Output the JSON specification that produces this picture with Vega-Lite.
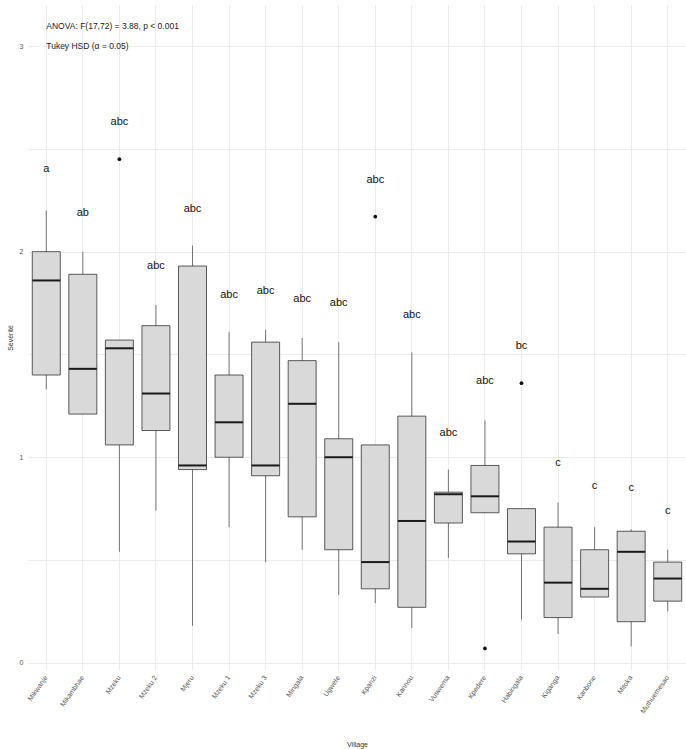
{
  "$schema": "https://vega.github.io/schema/vega-lite/v6.json",
  "width": 658,
  "height": 665,
  "autosize": {"type": "none"},
  "padding": {"left": 28, "top": 5, "right": 0, "bottom": 79},
  "background": "white",
  "config": {"view": {"stroke": null}, "font": "Liberation Sans"},
  "datasets": {
    "boxes": [
      {"village": "Mikwanje", "lower": 1.33, "q1": 1.40, "median": 1.86, "q3": 2.00, "upper": 2.20, "letters": "a", "ly": 2.40},
      {"village": "Mikambhae", "lower": 1.21, "q1": 1.21, "median": 1.43, "q3": 1.89, "upper": 2.00, "letters": "ab", "ly": 2.19},
      {"village": "Mzeku", "lower": 0.54, "q1": 1.06, "median": 1.53, "q3": 1.57, "upper": 1.57, "letters": "abc", "ly": 2.63},
      {"village": "Mzeku 2", "lower": 0.74, "q1": 1.13, "median": 1.31, "q3": 1.64, "upper": 1.74, "letters": "abc", "ly": 1.93},
      {"village": "Mjeru", "lower": 0.18, "q1": 0.94, "median": 0.96, "q3": 1.93, "upper": 2.03, "letters": "abc", "ly": 2.21},
      {"village": "Mzeku 1", "lower": 0.66, "q1": 1.00, "median": 1.17, "q3": 1.40, "upper": 1.61, "letters": "abc", "ly": 1.79},
      {"village": "Mzeku 3", "lower": 0.49, "q1": 0.91, "median": 0.96, "q3": 1.56, "upper": 1.62, "letters": "abc", "ly": 1.81},
      {"village": "Mingala", "lower": 0.55, "q1": 0.71, "median": 1.26, "q3": 1.47, "upper": 1.58, "letters": "abc", "ly": 1.77},
      {"village": "Ugwete", "lower": 0.33, "q1": 0.55, "median": 1.00, "q3": 1.09, "upper": 1.56, "letters": "abc", "ly": 1.75},
      {"village": "Kpanzi", "lower": 0.29, "q1": 0.36, "median": 0.49, "q3": 1.06, "upper": 1.06, "letters": "abc", "ly": 2.35},
      {"village": "Kannou", "lower": 0.17, "q1": 0.27, "median": 0.69, "q3": 1.20, "upper": 1.51, "letters": "abc", "ly": 1.69},
      {"village": "Vuswema", "lower": 0.51, "q1": 0.68, "median": 0.82, "q3": 0.83, "upper": 0.94, "letters": "abc", "ly": 1.12},
      {"village": "Kpedere", "lower": 0.73, "q1": 0.73, "median": 0.81, "q3": 0.96, "upper": 1.18, "letters": "abc", "ly": 1.37},
      {"village": "Habingala", "lower": 0.21, "q1": 0.53, "median": 0.59, "q3": 0.75, "upper": 0.75, "letters": "bc", "ly": 1.54},
      {"village": "Kiganga", "lower": 0.14, "q1": 0.22, "median": 0.39, "q3": 0.66, "upper": 0.78, "letters": "c", "ly": 0.97},
      {"village": "Kanbone", "lower": 0.32, "q1": 0.32, "median": 0.36, "q3": 0.55, "upper": 0.66, "letters": "c", "ly": 0.86},
      {"village": "Mitoka", "lower": 0.08, "q1": 0.20, "median": 0.54, "q3": 0.64, "upper": 0.65, "letters": "c", "ly": 0.85},
      {"village": "Muthuemesao", "lower": 0.25, "q1": 0.30, "median": 0.41, "q3": 0.49, "upper": 0.55, "letters": "c", "ly": 0.74}
    ],
    "outliers": [
      {"village": "Mzeku", "value": 2.45},
      {"village": "Kpanzi", "value": 2.17},
      {"village": "Kpedere", "value": 0.07},
      {"village": "Habingala", "value": 1.36}
    ],
    "notes": [
      {"village": "Mikwanje", "y": 3.1, "label": "ANOVA: F(17,72) = 3.88, p < 0.001"},
      {"village": "Mikwanje", "y": 3.0, "label": "Tukey HSD (α = 0.05)"}
    ]
  },
  "encoding": {
    "x": {
      "field": "village",
      "type": "nominal",
      "sort": ["Mikwanje", "Mikambhae", "Mzeku", "Mzeku 2", "Mjeru", "Mzeku 1", "Mzeku 3", "Mingala", "Ugwete", "Kpanzi", "Kannou", "Vuswema", "Kpedere", "Habingala", "Kiganga", "Kanbone", "Mitoka", "Muthuemesao"],
      "scale": {"paddingInner": 0, "paddingOuter": 0},
      "title": "Village",
      "axis": {
        "labelAngle": -55,
        "labelFontSize": 7,
        "labelColor": "#555555",
        "labelPadding": 6,
        "ticks": false,
        "domain": false,
        "grid": true,
        "bandPosition": 0.5,
        "gridColor": "#ebebeb",
        "gridWidth": 1,
        "titleFontSize": 7,
        "titleColor": "#333333",
        "titleFontWeight": "normal",
        "titlePadding": 26
      }
    }
  },
  "layer": [
    {
      "data": {"name": "boxes"},
      "mark": {"type": "rule", "color": "#555555", "strokeWidth": 0.8},
      "encoding": {
        "y": {
          "field": "lower",
          "type": "quantitative",
          "title": "Sévérité",
          "scale": {"domain": [-0.035, 3.2], "nice": false, "zero": false},
          "axis": {
            "values": [0, 0.5, 1, 1.5, 2, 2.5, 3],
            "labelExpr": "datum.value % 1 === 0 ? format(datum.value, 'd') : ''",
            "labelFontSize": 7,
            "labelColor": "#555555",
            "labelPadding": 5,
            "ticks": false,
            "domain": false,
            "gridColor": "#ebebeb",
            "gridWidth": 1,
            "titleFontSize": 7,
            "titleColor": "#333333",
            "titleFontWeight": "normal",
            "titlePadding": 6
          }
        },
        "y2": {"field": "upper"}
      }
    },
    {
      "data": {"name": "boxes"},
      "mark": {"type": "bar", "size": 28, "fill": "#d9d9d9", "stroke": "#333333", "strokeWidth": 0.8},
      "encoding": {
        "y": {"field": "q1", "type": "quantitative", "title": "Sévérité"},
        "y2": {"field": "q3"}
      }
    },
    {
      "data": {"name": "boxes"},
      "mark": {"type": "tick", "size": 28, "thickness": 2, "color": "#1a1a1a", "opacity": 1},
      "encoding": {
        "y": {"field": "median", "type": "quantitative", "title": "Sévérité"}
      }
    },
    {
      "data": {"name": "outliers"},
      "mark": {"type": "point", "filled": true, "color": "#111111", "size": 14, "opacity": 1},
      "encoding": {
        "y": {"field": "value", "type": "quantitative", "title": "Sévérité"}
      }
    },
    {
      "data": {"name": "boxes"},
      "mark": {"type": "text", "fontSize": 11, "color": "#111111", "baseline": "middle"},
      "encoding": {
        "y": {"field": "ly", "type": "quantitative", "title": "Sévérité"},
        "text": {"field": "letters"}
      }
    },
    {
      "data": {"name": "notes"},
      "mark": {"type": "text", "fontSize": 8.5, "color": "#222222", "align": "left", "baseline": "middle"},
      "encoding": {
        "y": {"field": "y", "type": "quantitative", "title": "Sévérité"},
        "text": {"field": "label"}
      }
    }
  ]
}
